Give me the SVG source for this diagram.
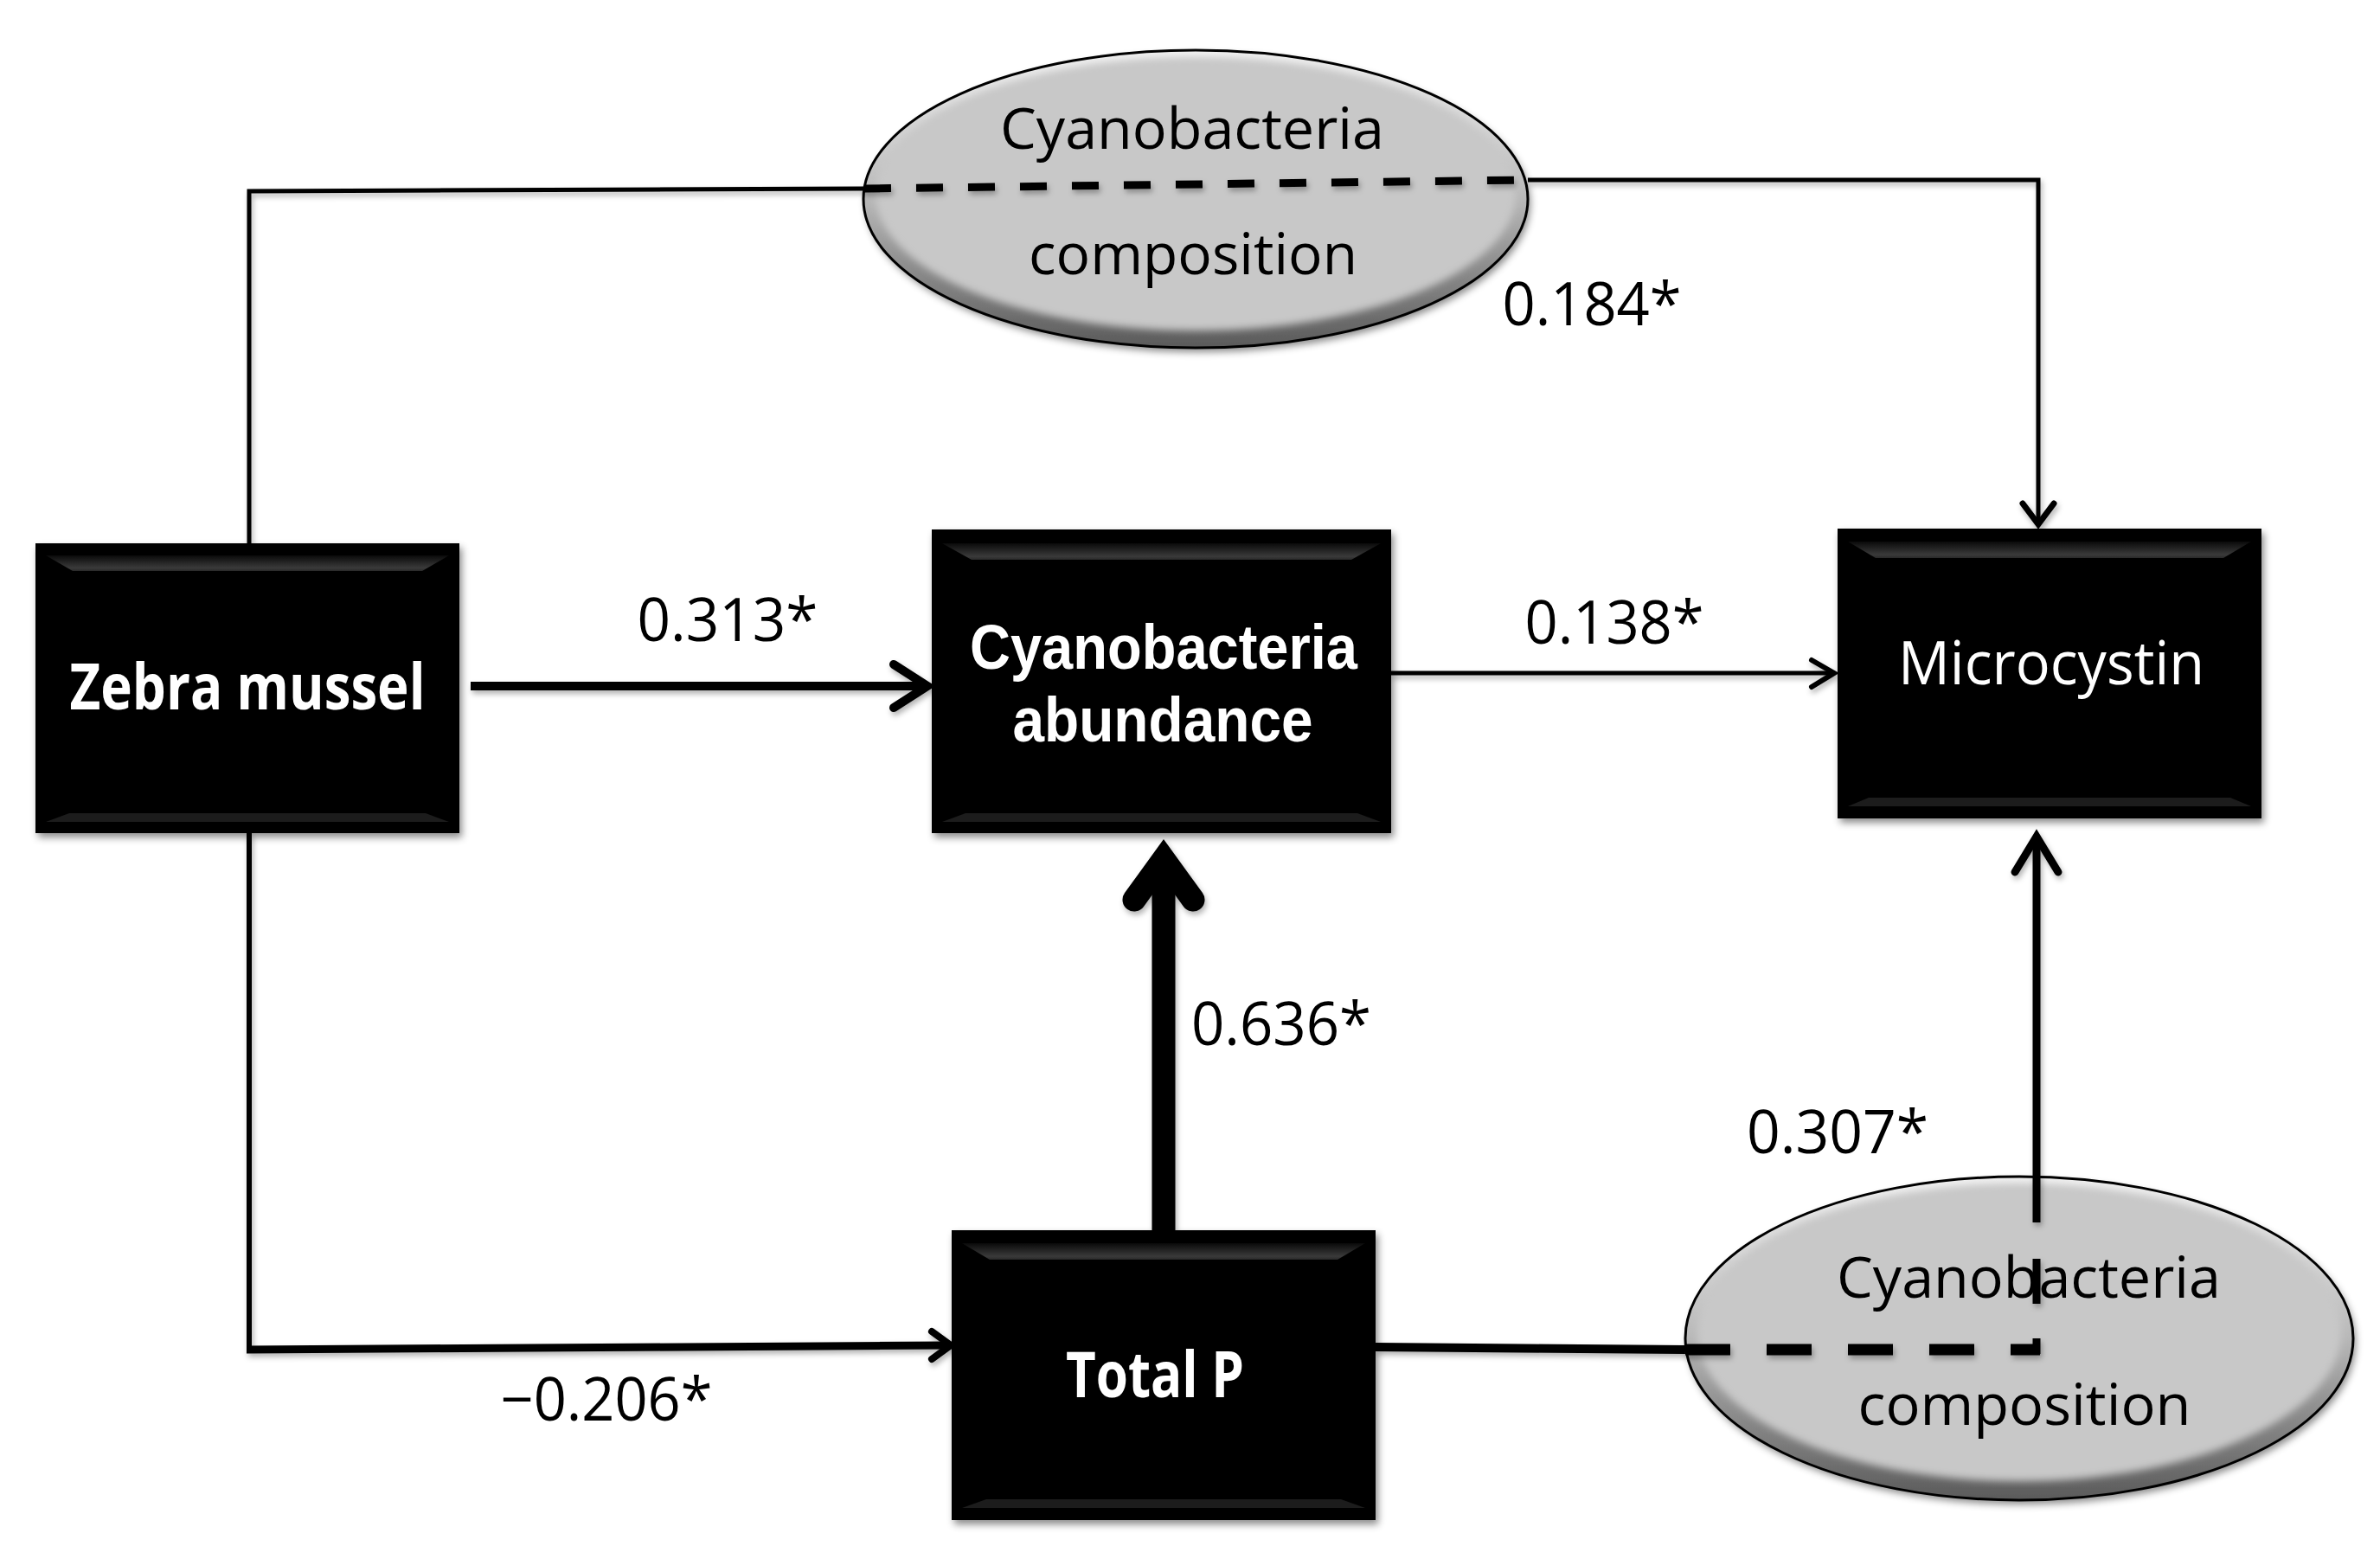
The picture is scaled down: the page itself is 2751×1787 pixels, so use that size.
<svg xmlns="http://www.w3.org/2000/svg" width="2751" height="1787" viewBox="0 0 2751 1787">
<style>
.node-text{font-family:"Open Sans","Liberation Sans",sans-serif;fill:#fff;text-anchor:middle}
.tight{font-family:"Liberation Sans","Open Sans",sans-serif}
.bold{font-weight:700;font-size:73px}
.reg{font-weight:400;font-size:69px}
.ell-text{font-family:"Open Sans","Liberation Sans",sans-serif;font-size:66px;fill:#000;text-anchor:middle}
.lbl{font-family:"Open Sans","Liberation Sans",sans-serif;font-size:69px;fill:#000;text-anchor:middle}
.box{fill:#000}
.bevtop{fill:url(#gTop)}
.bevbot{fill:#1c1c1c}
.ln{fill:none;stroke:#000;stroke-linecap:butt}
.head{fill:none;stroke:#000;stroke-linecap:round;stroke-linejoin:miter;stroke-miterlimit:10}
</style>
<defs>
<linearGradient id="gTop" x1="0" y1="0" x2="0" y2="1">
<stop offset="0" stop-color="#0a0a0a"/>
<stop offset="0.8" stop-color="#3a3a3a"/>
<stop offset="1" stop-color="#2a2a2a"/>
</linearGradient>
<linearGradient id="gRim" x1="0" y1="0" x2="0" y2="1">
<stop offset="0" stop-color="#f2f2f2"/>
<stop offset="0.5" stop-color="#b8b8b8"/>
<stop offset="1" stop-color="#5a5a5a"/>
</linearGradient>
<filter id="shadow" x="-10%" y="-10%" width="125%" height="125%">
<feDropShadow dx="3" dy="5" stdDeviation="4" flood-color="#000" flood-opacity="0.45"/>
</filter>
<filter id="soft" x="-10%" y="-10%" width="120%" height="120%">
<feGaussianBlur stdDeviation="4"/>
</filter>
<filter id="lshadow" x="-5%" y="-5%" width="110%" height="110%">
<feDropShadow dx="2" dy="4" stdDeviation="3" flood-color="#000" flood-opacity="0.3"/>
</filter>
</defs>
<rect width="2751" height="1787" fill="#fff"/>

<g id="node-zebra-mussel">
<rect class="box" x="41" y="628" width="490" height="335" filter="url(#shadow)"/>
<polygon class="bevtop" points="53,642 519,642 488,660 84,660"/>
<polygon class="bevbot" points="80,940 492,940 519,950 53,950"/>
<text class="node-text bold" x="286" y="820" textLength="411" lengthAdjust="spacingAndGlyphs">Zebra mussel</text>
</g>

<g id="node-cyanobacteria-abundance">
<rect class="box" x="1077" y="612" width="531" height="351" filter="url(#shadow)"/>
<polygon class="bevtop" points="1089,628 1596,628 1562,647 1123,647"/>
<polygon class="bevbot" points="1116,940 1569,940 1596,950 1089,950"/>
<text class="node-text tight bold" x="1345" y="773" textLength="448" lengthAdjust="spacingAndGlyphs">Cyanobacteria</text>
<text class="node-text tight bold" x="1344" y="857" textLength="347" lengthAdjust="spacingAndGlyphs">abundance</text>
</g>

<g id="node-microcystin">
<rect class="box" x="2124" y="611" width="490" height="335" filter="url(#shadow)"/>
<polygon class="bevtop" points="2136,626 2602,626 2570,645 2168,645"/>
<polygon class="bevbot" points="2160,922 2578,922 2602,932 2136,932"/>
<text class="node-text reg" x="2371" y="791" textLength="354" lengthAdjust="spacingAndGlyphs">Microcystin</text>
</g>

<g id="node-total-p">
<rect class="box" x="1100" y="1422" width="490" height="335" filter="url(#shadow)"/>
<polygon class="bevtop" points="1112,1437 1578,1437 1546,1456 1144,1456"/>
<polygon class="bevbot" points="1140,1733 1550,1733 1578,1743 1112,1743"/>
<text class="node-text bold" x="1335" y="1615" textLength="206" lengthAdjust="spacingAndGlyphs">Total P</text>
</g>

<g id="node-cyanobacteria-composition-top">
<ellipse cx="1382" cy="230" rx="384" ry="172" fill="url(#gRim)" filter="url(#shadow)"/>
<ellipse cx="1382" cy="224" rx="370" ry="158" fill="#c8c8c8" filter="url(#soft)"/>
<ellipse cx="1382" cy="230" rx="384" ry="172" fill="none" stroke="#000" stroke-width="3"/>
<text class="ell-text" x="1378" y="172" textLength="444" lengthAdjust="spacingAndGlyphs">Cyanobacteria</text>
<text class="ell-text" x="1379" y="317" textLength="380" lengthAdjust="spacingAndGlyphs">composition</text>
</g>

<g id="node-cyanobacteria-composition-bottom">
<ellipse cx="2334" cy="1547" rx="386" ry="187" fill="url(#gRim)" filter="url(#shadow)"/>
<ellipse cx="2334" cy="1540" rx="372" ry="172" fill="#c8c8c8" filter="url(#soft)"/>
<ellipse cx="2334" cy="1547" rx="386" ry="187" fill="none" stroke="#000" stroke-width="3"/>
<text class="ell-text" x="2345" y="1500" textLength="444" lengthAdjust="spacingAndGlyphs">Cyanobacteria</text>
<text class="ell-text" x="2340" y="1647" textLength="385" lengthAdjust="spacingAndGlyphs">composition</text>
</g>

<g id="connectors" filter="url(#lshadow)">
<!-- Zebra mussel -> Microcystin via top composition -->
<polyline class="ln" stroke-width="5" points="288,628 288,221 999,218"/>
<line class="ln" stroke-width="9" x1="999" y1="218" x2="1766" y2="208" stroke-dasharray="31 29"/>
<polyline class="ln" stroke-width="5" points="1766,208 2356,208 2356,600"/>
<path class="head" stroke-width="7" d="M2338,582 L2356,606 L2374,582"/>

<!-- Zebra mussel -> Cyanobacteria abundance -->
<line class="ln" stroke-width="10" x1="544" y1="793" x2="1070" y2="793"/>
<path class="head" stroke-width="10" d="M1033,768 L1072,793 L1033,818"/>

<!-- Cyanobacteria abundance -> Microcystin -->
<line class="ln" stroke-width="5" x1="1608" y1="778" x2="2118" y2="778"/>
<path class="head" stroke-width="6" d="M2094,763 L2120,778 L2094,794"/>

<!-- Total P -> Cyanobacteria abundance -->
<line class="ln" stroke-width="27" x1="1345" y1="1422" x2="1345" y2="1000"/>
<path class="head" stroke-width="27" d="M1311,1040 L1345,993 L1379,1040"/>

<!-- Zebra mussel -> Total P -->
<line class="ln" stroke-width="6" x1="288" y1="963" x2="288" y2="1563"/>
<line class="ln" stroke-width="9" x1="285" y1="1560" x2="1096" y2="1555"/>
<path class="head" stroke-width="8" d="M1077,1539 L1099,1555 L1077,1571"/>

<!-- Total P -> Microcystin via bottom composition -->
<line class="ln" stroke-width="10" x1="1590" y1="1557" x2="1948" y2="1560"/>
<line class="ln" stroke-width="13" x1="1948" y1="1560" x2="2358" y2="1560" stroke-dasharray="52 42"/>
<line class="ln" stroke-width="9" x1="2354" y1="1565" x2="2354" y2="1547"/>
<line class="ln" stroke-width="9" x1="2354" y1="1507" x2="2354" y2="1455"/>
<line class="ln" stroke-width="9" x1="2354" y1="1413" x2="2354" y2="975"/>
<path class="head" stroke-width="9" d="M2329,1008 L2354,967 L2379,1008"/>
</g>

<g id="labels">
<text class="lbl" x="841" y="741" textLength="209" lengthAdjust="spacingAndGlyphs">0.313*</text>
<text class="lbl" x="1866" y="744" textLength="207" lengthAdjust="spacingAndGlyphs">0.138*</text>
<text class="lbl" x="1481" y="1208" textLength="208" lengthAdjust="spacingAndGlyphs">0.636*</text>
<text class="lbl" x="701" y="1642" textLength="245" lengthAdjust="spacingAndGlyphs">−0.206*</text>
<text class="lbl" x="1840" y="376" textLength="207" lengthAdjust="spacingAndGlyphs">0.184*</text>
<text class="lbl" x="2124" y="1333" textLength="210" lengthAdjust="spacingAndGlyphs">0.307*</text>
</g>
</svg>
